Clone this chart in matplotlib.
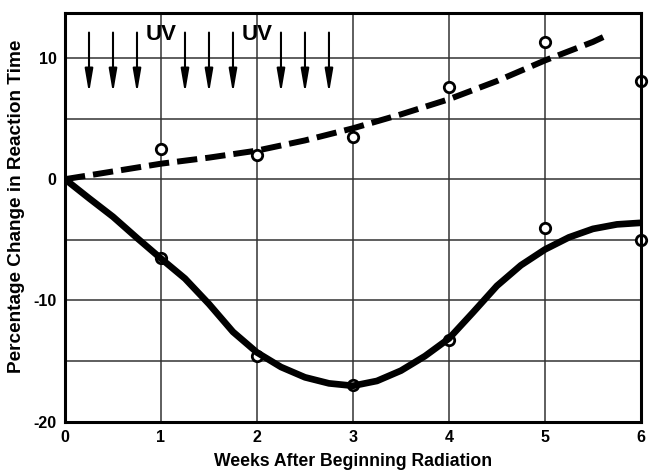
import matplotlib
matplotlib.use("Agg")
import matplotlib.pyplot as plt

plt.rcParams['font.family'] = ['Liberation Sans', 'DejaVu Sans']
plt.rcParams['font.weight'] = 'bold'
plt.rcParams['axes.unicode_minus'] = False

# measured points
weeks = [1, 2, 3, 4, 5, 6]
upper_pts = [2.5, 2.0, 3.5, 7.6, 11.3, 8.1]
lower_pts = [-6.5, -14.6, -17.0, -13.3, -4.0, -5.0]

# dashed trend
dash_x = [0, 0.5, 1, 1.5, 2, 2.5, 3, 3.5, 4, 4.5, 5, 5.5, 5.68]
dash_y = [0, 0.64, 1.28, 1.78, 2.36, 3.2, 4.2, 5.35, 6.6, 8.1, 9.8, 11.33, 12.0]

# solid trend
solid_x = [0, 0.25, 0.5, 0.75, 1.0, 1.25, 1.5, 1.75, 2.0, 2.25, 2.5, 2.75, 3.0,
           3.25, 3.5, 3.75, 4.0, 4.25, 4.5, 4.75, 5.0, 5.25, 5.5, 5.75, 6.0]
solid_y = [0, -1.57, -3.1, -4.85, -6.55, -8.2, -10.3, -12.6, -14.3, -15.5, -16.35, -16.85, -17.05,
           -16.65, -15.8, -14.6, -13.15, -11.0, -8.8, -7.1, -5.8, -4.8, -4.1, -3.73, -3.6]

# UV exposure arrows
uv_arrows = [0.25, 0.5, 0.75, 1.25, 1.5, 1.75, 2.25, 2.5, 2.75]
uv_labels = [1.0, 2.0]

fig = plt.figure(figsize=(6.54, 4.71), dpi=100)
ax = fig.add_axes([0.0994, 0.105, 0.8806, 0.867])

ax.set_xlim(0, 6)
ax.set_ylim(-20, 13.7)
ax.set_xticks(range(0, 7))
ax.set_yticks([-20, -10, 0, 10])
ax.set_yticks([-15, -5, 5], minor=True)
ax.grid(True, which='both', color='#333333', lw=1.1)
ax.set_axisbelow(True)
ax.tick_params(which='both', length=0, labelsize=11.5, pad=6)
for lab in ax.get_xticklabels() + ax.get_yticklabels():
    lab.set_fontweight('bold')
for sp in ax.spines.values():
    sp.set_linewidth(2.2)
    sp.set_zorder(5)

ax.plot(weeks, upper_pts, 'o', ms=7.5, mfc='white', mec='black', mew=2,
        zorder=3, clip_on=False)
ax.plot(weeks, lower_pts, 'o', ms=7.5, mfc='white', mec='black', mew=2,
        zorder=3, clip_on=False)

ax.plot(dash_x, dash_y, color='black', lw=4.3, dashes=(3.4, 1.35),
        solid_joinstyle='round', zorder=4)
ax.plot(solid_x, solid_y, color='black', lw=4.8, solid_capstyle='butt',
        solid_joinstyle='round', zorder=4)

for xa in uv_arrows:
    ax.annotate('', xy=(xa, 7.1), xytext=(xa, 12.1),
                arrowprops=dict(arrowstyle='-|>,head_length=1.4,head_width=0.24',
                                color='black', lw=1.5, shrinkA=0, shrinkB=0))
for xu in uv_labels:
    ax.text(xu, 11.95, 'UV', ha='center', va='center', fontsize=16,
            fontweight='bold', zorder=6)

ax.set_xlabel('Weeks After Beginning Radiation', fontsize=12.7,
              fontweight='bold', labelpad=6)
ax.set_ylabel('Percentage Change in Reaction Time', fontsize=13.7,
              fontweight='bold')
ax.yaxis.set_label_coords(-0.07, 0.527)

fig.savefig('out.png', dpi=100)
